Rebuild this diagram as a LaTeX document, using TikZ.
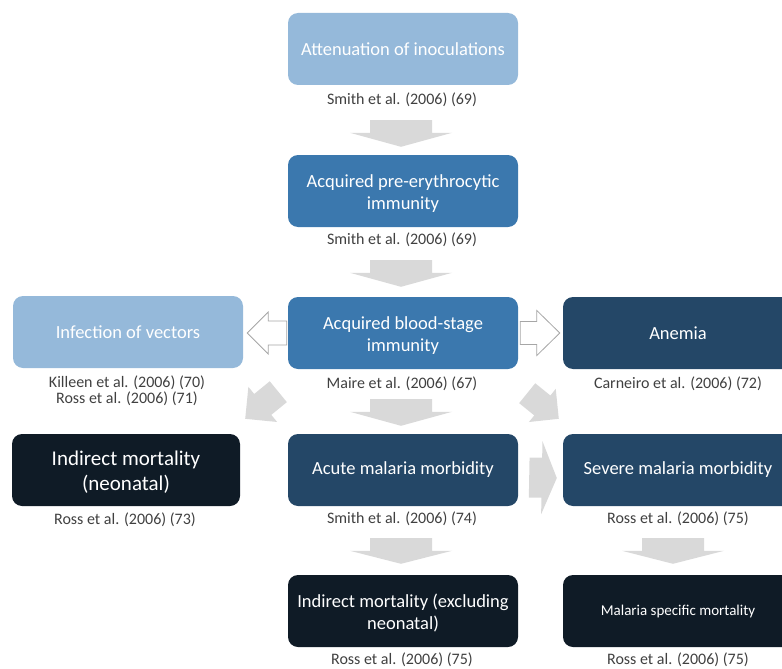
\documentclass[tikz,border=0pt]{standalone}
\usepackage{fontspec}
\setmainfont{Carlito}
\usetikzlibrary{calc}
\definecolor{lightblue}{HTML}{95B9DA}
\definecolor{midblue}{HTML}{3B78AE}
\definecolor{navy}{HTML}{244767}
\definecolor{nearblack}{HTML}{0F1B26}
\definecolor{arrowgray}{HTML}{D9D9D9}
\definecolor{outlinegray}{HTML}{A6A6A6}
\definecolor{citegray}{HTML}{404040}
\newcommand\myblockarrow[6]{% #1 style, #2 tail, #3 tip, #4 half shaft, #5 half head, #6 head length
  \coordinate (hb) at ($(#3)!#6pt!(#2)$);
  \path[#1] ($(#2)!#4pt!90:(#3)$) -- ($(hb)!#4pt!90:(#3)$) -- ($(hb)!#5pt!90:(#3)$) -- (#3)
    -- ($(hb)!#5pt!-90:(#3)$) -- ($(hb)!#4pt!-90:(#3)$) -- ($(#2)!#4pt!-90:(#3)$) -- cycle;}
\newcommand\twolines[2]{\raisebox{-3pt}[\height][\depth]{\begin{tabular}{@{}c@{}}#1\\#2\end{tabular}}}
\begin{document}
\begin{tikzpicture}[x=1pt,y=-1pt,
  box/.style={rounded corners=10pt, minimum width=230pt, minimum height=72pt, text=white,
    align=center, inner sep=2pt, font=\fontsize{18.5}{22}\selectfont},
  cite/.style={text=citegray, align=center, inner sep=0pt, font=\fontsize{16}{16.5}\selectfont},
  solidarr/.style={fill=arrowgray},
  hollowarr/.style={fill=white, draw=outlinegray, line width=0.8pt, line join=miter}]
\useasboundingbox (0,0) rectangle (782,669);
\clip (0,0) rectangle (782,669);

% boxes
\node[box, fill=lightblue] (b1) at (403,49) {Attenuation of inoculations};
\node[box, fill=midblue] (b2) at (403,191) {\twolines{Acquired pre-erythrocytic}{immunity}};
\node[box, fill=midblue] (b3) at (403,333) {\twolines{Acquired blood-stage}{immunity}};
\node[box, fill=lightblue] (lbox) at (128,332) {Infection of vectors};
\node[box, fill=navy] (rbox) at (678,333) {Anemia};
\node[box, fill=nearblack, minimum width=228pt, font=\fontsize{21}{25}\selectfont] (l4) at (126,470) {\twolines{Indirect mortality}{(neonatal)}};
\node[box, fill=navy] (m4) at (403,470) {Acute malaria morbidity};
\node[box, fill=navy] (r4) at (678,470) {Severe malaria morbidity};
\node[box, fill=nearblack] (m5) at (403,611) {\twolines{Indirect mortality (excluding}{neonatal)}};
\node[box, fill=nearblack, font=\fontsize{15}{18}\selectfont] (r5) at (678,611) {Malaria specific mortality};

% citations
\node[cite] (c1) at (402,100) {Smith et al. (2006) (69)};
\node[cite] (c2) at (402,240) {Smith et al. (2006) (69)};
\node[cite] (c3) at (402,384) {Maire et al. (2006) (67)};
\node[cite] (cl) at (127,391) {Killeen et al. (2006) (70)\\Ross et al. (2006) (71)};
\node[cite] (cr) at (678,384) {Carneiro et al. (2006) (72)};
\node[cite] (c4l) at (125,520) {Ross et al. (2006) (73)};
\node[cite] (c4m) at (402,519) {Smith et al. (2006) (74)};
\node[cite] (c4r) at (678,519) {Ross et al. (2006) (75)};
\node[cite] (c5m) at (402,660) {Ross et al. (2006) (75)};
\node[cite] (c5r) at (678,660) {Ross et al. (2006) (75)};

% arrow end points
\coordinate (a1s) at ($(b1.south)+(-2,35)$);
\coordinate (a1e) at ($(b2.north)+(-2,-8)$);
\coordinate (a2s) at ($(b2.south)+(-2,33)$);
\coordinate (a2e) at ($(b3.north)+(-2,-10)$);
\coordinate (a3s) at ($(b3.south)+(-2,30)$);
\coordinate (a3e) at ($(m4.north)+(-2,-8)$);
\coordinate (a4s) at ($(m4.south)+(-2,32)$);
\coordinate (a4e) at ($(m5.north)+(-2,-11)$);
\coordinate (a5s) at ($(r4.south)+(-5,32)$);
\coordinate (a5e) at ($(r5.north)+(-5,-11)$);
\coordinate (hls) at ($(b3.west)+(-1,0)$);
\coordinate (hle) at ($(lbox.east)+(4,1)$);
\coordinate (hrs) at ($(b3.east)+(2,0)$);
\coordinate (hre) at ($(rbox.west)+(-3,0)$);
\coordinate (dls) at ($(b3.south west)+(-9.5,22.5)$);
\coordinate (dle) at ($(l4.north east)+(5,-15)$);
\coordinate (drs) at ($(b3.south east)+(9,24)$);
\coordinate (dre) at ($(r4.north west)+(-4,-15)$);
\coordinate (rs) at ($(m4.east)+(11,7.5)$);
\coordinate (re) at ($(r4.west)+(-6,8)$);

% arrows
\myblockarrow{solidarr}{a1s}{a1e}{31}{51}{14}
\myblockarrow{solidarr}{a2s}{a2e}{31}{51}{14}
\myblockarrow{solidarr}{a3s}{a3e}{31}{51}{14}
\myblockarrow{solidarr}{a4s}{a4e}{31}{51}{13}
\myblockarrow{solidarr}{a5s}{a5e}{31}{51}{13}
\myblockarrow{hollowarr}{hls}{hle}{12}{21}{21}
\myblockarrow{hollowarr}{hrs}{hre}{11.5}{22.5}{23}
\myblockarrow{solidarr}{dls}{dle}{13.5}{22.7}{22.7}
\myblockarrow{solidarr}{drs}{dre}{12.8}{21.3}{21.2}
\myblockarrow{solidarr}{rs}{re}{20}{36.5}{15}
\end{tikzpicture}
\end{document}
